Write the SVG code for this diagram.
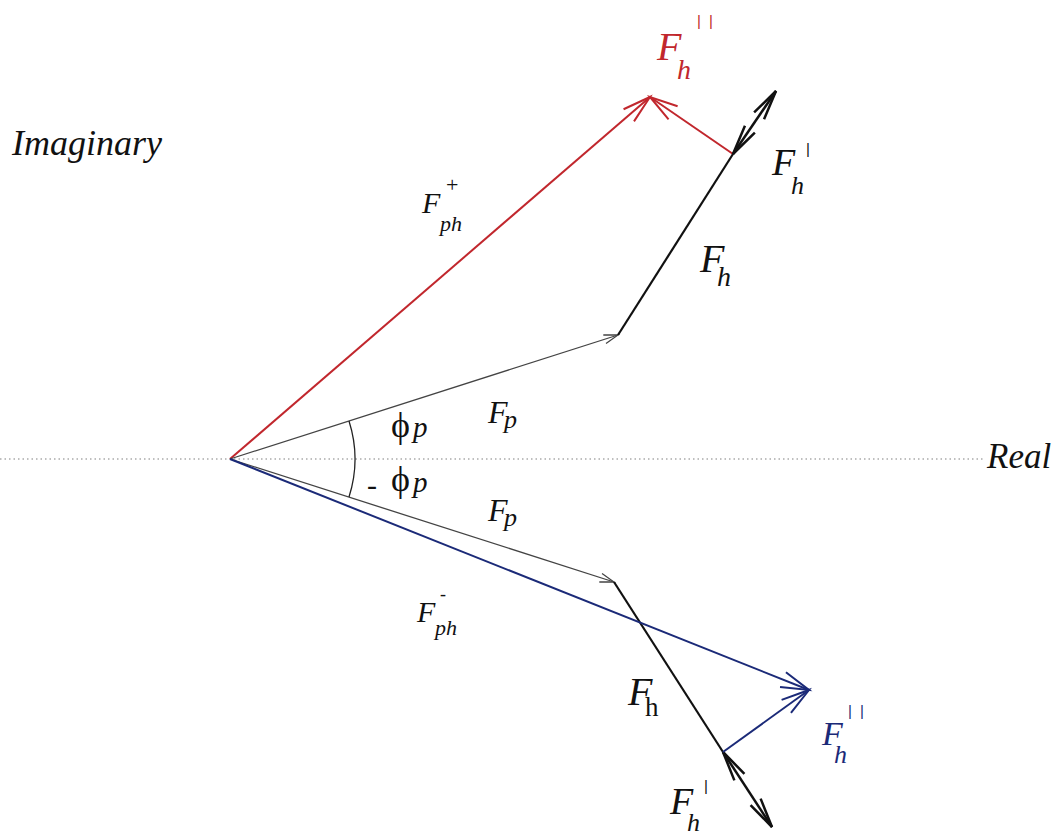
<svg xmlns="http://www.w3.org/2000/svg" width="1062" height="835" viewBox="0 0 1062 835">
<style>
.t{font-family:"Liberation Serif","DejaVu Serif",serif;font-style:italic;fill:#111}
.u{font-family:"Liberation Serif","DejaVu Serif",serif;fill:#111}
.tick{font-family:"Liberation Sans",sans-serif;font-size:15px;letter-spacing:8px;fill:#111}
.red{fill:#c1272d}
.blue{fill:#1b2a78}
.ax{stroke:#aaa;stroke-width:1.3;stroke-dasharray:1.5 3;fill:none}
</style>
<defs>
<marker id="mr" markerUnits="userSpaceOnUse" orient="auto" markerWidth="40" markerHeight="40" refX="0" refY="0" style="overflow:visible"><path d="M-28,-8 L0,0 L-28,8" fill="none" stroke="#c1272d" stroke-width="2"/></marker>
<marker id="mb" markerUnits="userSpaceOnUse" orient="auto" markerWidth="40" markerHeight="40" refX="0" refY="0" style="overflow:visible"><path d="M-28,-8 L0,0 L-28,8" fill="none" stroke="#1b2a78" stroke-width="2"/></marker>
<marker id="mg" markerUnits="userSpaceOnUse" orient="auto" markerWidth="40" markerHeight="40" refX="0" refY="0" style="overflow:visible"><path d="M-14,-4.5 L0,0 L-14,4.5" fill="none" stroke="#444" stroke-width="1.3"/></marker>
<marker id="mk" markerUnits="userSpaceOnUse" orient="auto-start-reverse" markerWidth="40" markerHeight="40" refX="0" refY="0" style="overflow:visible"><path d="M-30,-6 L0,0 L-30,6" fill="none" stroke="#111" stroke-width="2.5"/></marker>
</defs>
<g id="axes">
<line class="ax" x1="0" y1="459" x2="985" y2="459"/>
<text class="t" x="12" y="155" font-size="36">Imaginary</text>
<text class="t" x="987" y="468" font-size="35">Real</text>
</g>
<g id="connectors" fill="none">
<line x1="230" y1="459" x2="650" y2="97" stroke="#c1272d" stroke-width="2" marker-end="url(#mr)"/>
<line x1="733" y1="154" x2="650" y2="97" stroke="#c1272d" stroke-width="2" marker-end="url(#mr)"/>
<line x1="230" y1="459" x2="618" y2="335" stroke="#444" stroke-width="1.3" marker-end="url(#mg)"/>
<line x1="618" y1="335" x2="733" y2="154" stroke="#111" stroke-width="2.2"/>
<line x1="733" y1="154" x2="776" y2="91" stroke="#111" stroke-width="2.5" marker-start="url(#mk)" marker-end="url(#mk)"/>
<line x1="230" y1="459" x2="614" y2="582" stroke="#444" stroke-width="1.3" marker-end="url(#mg)"/>
<line x1="614" y1="582" x2="723" y2="752" stroke="#111" stroke-width="2.2"/>
<line x1="723" y1="752" x2="772" y2="827" stroke="#111" stroke-width="2.5" marker-start="url(#mk)" marker-end="url(#mk)"/>
<line x1="230" y1="459" x2="809" y2="690" stroke="#1b2a78" stroke-width="2" marker-end="url(#mb)"/>
<line x1="723" y1="752" x2="809" y2="690" stroke="#1b2a78" stroke-width="2" marker-end="url(#mb)"/>
<path d="M349,421 A125,125 0 0 1 349,497" stroke="#222" stroke-width="1.3"/>
</g>
<g id="label-Fh2-red">
<text class="t red" x="657" y="60" font-size="40">F</text>
<text class="t red" x="677" y="79" font-size="28">h</text>
<text class="tick red" x="697" y="26">||</text>
</g>
<g id="label-Fh1-top">
<text class="t" x="772" y="175" font-size="38">F</text>
<text class="t" x="791" y="194" font-size="26">h</text>
<text class="tick" x="806" y="154">|</text>
</g>
<g id="label-Fph-plus">
<text class="t" x="422" y="213" font-size="30">F</text>
<text class="t" x="440" y="231" font-size="22">ph</text>
<text class="u" x="446" y="192" font-size="22">+</text>
</g>
<g id="label-Fh-top">
<text class="t" x="700" y="272" font-size="40">F</text>
<text class="t" x="717" y="286" font-size="28">h</text>
</g>
<g id="label-phi-p">
<text class="u" x="391" y="437" font-size="36">ϕ</text>
<text class="t" x="413" y="437" font-size="29">p</text>
</g>
<g id="label-Fp-upper">
<text class="t" x="488" y="423" font-size="32">F</text>
<text class="t" x="504" y="428" font-size="26">p</text>
</g>
<g id="label-minus-phi-p">
<text class="u" x="367" y="495" font-size="30">-</text>
<text class="u" x="391" y="491" font-size="36">ϕ</text>
<text class="t" x="413" y="492" font-size="29">p</text>
</g>
<g id="label-Fp-lower">
<text class="t" x="488" y="521" font-size="32">F</text>
<text class="t" x="504" y="526" font-size="26">p</text>
</g>
<g id="label-Fph-minus">
<text class="t" x="417" y="622" font-size="30">F</text>
<text class="t" x="435" y="635" font-size="22">ph</text>
<text class="u" x="440" y="600" font-size="18">-</text>
</g>
<g id="label-Fh-lower">
<text class="t" x="628" y="705" font-size="40">F</text>
<text class="u" x="645" y="716" font-size="27">h</text>
</g>
<g id="label-Fh2-blue">
<text class="t blue" x="822" y="745" font-size="34">F</text>
<text class="t blue" x="834" y="763" font-size="26">h</text>
<text class="tick blue" x="848" y="716">||</text>
</g>
<g id="label-Fh1-lower">
<text class="t" x="670" y="814" font-size="38">F</text>
<text class="t" x="687" y="831" font-size="26">h</text>
<text class="tick" x="704" y="791">|</text>
</g>
</svg>
